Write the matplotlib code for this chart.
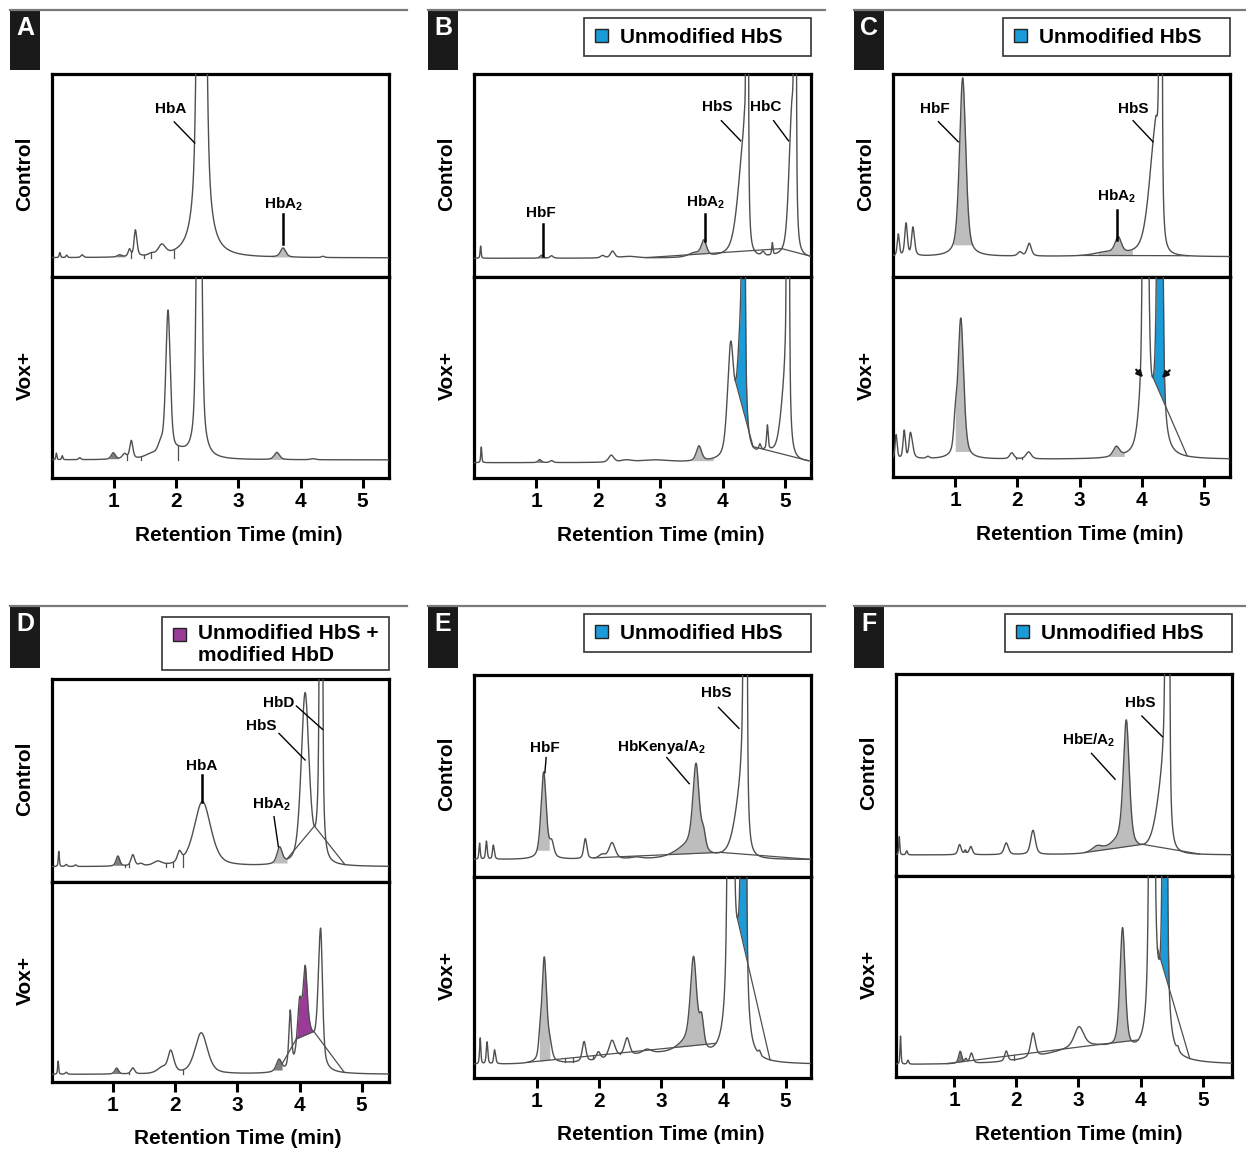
import numpy as np
import matplotlib.pyplot as plt
from matplotlib.patches import Rectangle

plt.rcParams['font.family'] = ['Liberation Sans', 'DejaVu Sans']
plt.rcParams['font.weight'] = 'bold'
plt.rcParams['mathtext.fontset'] = 'custom'
plt.rcParams['mathtext.rm'] = 'Liberation Sans:bold'
plt.rcParams['mathtext.it'] = 'Liberation Sans:bold'
plt.rcParams['mathtext.bf'] = 'Liberation Sans:bold'

# peaks: (retention time min, height % of panel, left half-width, right half-width)
A_CTRL_BASE = 9.4
A_CTRL_PEAKS = [(0.13, 2.5, .012, .012), (0.24, 1.2, .015, .015), (0.49, 1.3, .025, .025),
                (1.09, 1.0, .04, .04), (1.25, 3.5, .025, .025), (1.345, 13.0, .025, .03),
                (1.60, 1.0, .05, .05), (1.77, 5.0, .07, .07), (2.41, 600.0, .05, .05),
                (3.72, 4.5, .05, .05), (4.36, 0.6, .03, .03)]
A_VOX_BASE = 9.0
A_VOX_PEAKS = [(0.075, 3.3, .01, .01), (0.17, 2.0, .012, .012), (0.45, 1.0, .02, .02),
               (0.99, 3.2, .04, .04), (1.17, 2.5, .04, .04), (1.28, 9.0, .03, .03),
               (1.60, 2.0, .12, .12), (1.75, 5.0, .05, .05), (1.87, 72.0, .043, .043),
               (2.05, 3.0, .15, .15), (2.37, 320.0, .035, .035), (3.62, 3.6, .05, .05),
               (4.20, 0.5, .05, .05)]

B_CTRL_BASE = 9.2
B_CTRL_PEAKS = [(0.11, 6.0, .01, .01), (1.09, 1.5, .03, .03), (1.25, 1.2, .03, .03),
                (2.07, 1.2, .04, .04), (2.23, 3.3, .04, .04), (2.50, 0.8, .15, .15),
                (3.55, 2.0, .12, .12), (3.70, 7.5, .05, .05), (4.40, 555.0, .015, .01),
                (4.34, 50.0, .11, .04), (4.65, 2.0, .03, .03), (4.80, 6.0, .012, .012),
                (5.17, 555.0, .015, .01), (5.11, 60.0, .055, .04)]
B_VOX_BASE = 7.6
B_VOX_PEAKS = [(0.12, 7.8, .01, .01), (1.06, 1.5, .03, .03), (1.25, 1.0, .03, .03),
               (2.21, 3.5, .05, .05), (2.45, 1.0, .1, .1), (2.90, 1.2, .3, .3),
               (3.62, 7.5, .05, .05), (4.13, 55.0, .06, .06), (4.33, 555.0, .015, .02),
               (4.28, 45.0, .06, .03), (4.60, 3.0, .02, .02), (4.72, 12.0, .015, .015),
               (4.70, 4.0, .2, .2), (5.05, 555.0, .015, .015), (5.00, 30.0, .08, .03)]

C_CTRL_BASE = 10.0
C_CTRL_PEAKS = [(0.085, 10.7, .02, .02), (0.21, 16.0, .025, .025), (0.32, 14.0, .025, .03),
                (1.12, 88.0, .06, .06), (2.04, 2.0, .04, .04), (2.19, 6.3, .04, .04),
                (3.40, 1.5, .2, .2), (3.62, 8.0, .06, .06), (4.31, 555.0, .02, .012),
                (4.22, 55.0, .12, .05)]
C_VOX_BASE = 8.8
C_VOX_PEAKS = [(0.05, 12.0, .02, .02), (0.18, 14.0, .022, .022), (0.28, 13.0, .025, .04),
               (0.56, 1.0, .03, .03), (1.00, 12.0, .03, .03), (1.09, 70.0, .055, .055),
               (1.91, 3.0, .04, .04), (2.18, 3.5, .05, .05), (3.59, 5.0, .06, .06),
               (3.98, 10.0, .06, .06), (4.05, 555.0, .025, .035), (4.30, 555.0, .035, .025)]

D_CTRL_BASE = 7.5
D_CTRL_PEAKS = [(0.13, 7.5, .01, .01), (0.25, 1.0, .02, .02), (0.40, 0.8, .02, .02),
                (1.08, 5.0, .035, .035), (1.32, 5.5, .035, .035), (1.45, 1.0, .04, .04),
                (1.72, 2.0, .08, .08), (2.07, 5.0, .04, .04), (2.44, 32.0, .16, .16),
                (3.68, 8.0, .05, .05), (4.09, 84.0, .075, .075), (4.35, 555.0, .02, .015)]
D_VOX_BASE = 3.8
D_VOX_PEAKS = [(0.12, 6.6, .01, .01), (0.25, 1.0, .02, .02), (1.06, 3.0, .035, .035),
               (1.32, 3.0, .035, .035), (1.80, 3.0, .1, .1), (1.93, 10.5, .05, .06),
               (2.42, 20.6, .12, .12), (3.67, 6.0, .05, .05), (3.85, 28.0, .025, .025),
               (4.00, 25.0, .04, .04), (4.09, 35.0, .04, .04), (4.15, 18.0, .15, .15),
               (4.34, 66.0, .045, .035)]

E_CTRL_BASE = 8.6
E_CTRL_PEAKS = [(0.08, 8.0, .012, .012), (0.19, 9.0, .015, .015), (0.30, 7.0, .015, .02),
                (1.11, 43.0, .05, .05), (1.24, 7.0, .04, .04), (1.78, 10.0, .03, .03),
                (2.05, 2.0, .06, .06), (2.21, 8.0, .06, .06), (2.60, 0.8, .1, .1),
                (3.45, 6.0, .25, .2), (3.56, 42.0, .06, .06), (3.68, 8.0, .04, .04),
                (4.36, 555.0, .025, .015), (4.28, 25.0, .12, .05)]
E_VOX_BASE = 6.6
E_VOX_PEAKS = [(0.09, 13.0, .012, .012), (0.20, 11.0, .015, .015), (0.32, 7.0, .015, .02),
               (2.90, 5.0, .7, .7), (1.05, 8.0, .025, .025), (1.12, 52.0, .045, .045),
               (1.21, 7.0, .04, .04), (1.76, 10.0, .035, .035), (1.99, 4.0, .04, .04),
               (2.21, 9.0, .06, .06), (2.45, 9.0, .05, .05), (2.77, 2.0, .08, .08),
               (3.42, 6.0, .2, .2), (3.52, 44.0, .06, .06), (3.65, 14.0, .04, .04),
               (4.12, 555.0, .035, .03), (4.22, 30.0, .08, .08),
               (4.33, 555.0, .03, .025), (4.58, 2.0, .02, .02)]

F_CTRL_BASE = 10.4
F_CTRL_PEAKS = [(0.12, 9.0, .01, .01), (0.24, 2.0, .015, .015), (1.09, 5.0, .03, .03),
                (1.18, 2.0, .02, .02), (1.27, 4.0, .03, .03), (1.84, 5.8, .04, .04),
                (2.27, 12.0, .045, .045), (3.30, 3.0, .1, .1), (3.65, 5.0, .2, .2),
                (3.77, 62.0, .057, .057), (4.445, 555.0, .03, .015), (4.35, 25.0, .12, .05)]
F_VOX_BASE = 6.0
F_VOX_PEAKS = [(0.14, 14.0, .01, .01), (0.26, 2.0, .015, .015), (1.10, 6.0, .03, .03),
               (1.19, 2.0, .02, .02), (1.28, 5.0, .03, .03), (3.20, 9.0, .8, .8),
               (1.84, 5.0, .03, .03), (2.27, 12.0, .045, .045), (3.01, 10.0, .09, .09),
               (3.71, 60.0, .05, .05), (4.18, 555.0, .03, .03), (4.27, 15.0, .08, .08),
               (4.39, 555.0, .025, .025), (4.60, 2.0, .02, .02)]

# integration marks: shaded peaks (start, end, tone), baseline skims, drop lines, coloured area
A_CTRL_SHADE = [(1.0, 1.18, 'dark'), (3.52, 3.92, 'light')]
A_CTRL_DROPS = [1.28, 1.48, 1.59, 1.96]
A_VOX_SHADE = [(0.9, 1.08, 'dark'), (3.45, 3.8, 'light')]
A_VOX_DROPS = [1.21, 1.43, 2.03]

B_CTRL_SHADE = [(1.0, 1.16, 'dark'), (3.45, 3.88, 'light')]
B_CTRL_SKIMS = [(2.77, 4.95), (4.95, 5.40)]
B_VOX_SHADE = [(1.0, 1.15, 'dark'), (3.45, 3.85, 'light')]
B_VOX_SKIMS = [(4.49, 5.38)]
B_VOX_AREA = (4.20, 4.49)

C_CTRL_SHADE = [(0.97, 1.28, 'light'), (3.3, 3.85, 'light')]
C_CTRL_SKIMS = [(3.0, 4.75)]
C_VOX_SHADE = [(1.0, 1.25, 'light'), (3.45, 3.72, 'light')]
C_VOX_DROPS = [1.98, 2.08]
C_VOX_AREA = (4.18, 4.73)
C_VOX_ARROWS = [((3.88, 54.7), (4.05, 48.8)), ((4.48, 54.3), (4.29, 48.5))]

D_CTRL_SHADE = [(1.0, 1.15, 'dark'), (3.55, 3.8, 'light')]
D_CTRL_SKIMS = [(3.80, 4.24), (4.24, 4.73)]
D_CTRL_DROPS = [1.19, 1.26, 1.86, 1.96, 2.13]
D_VOX_SHADE = [(0.98, 1.14, 'dark'), (3.58, 3.75, 'dark')]
D_VOX_SKIMS = [(3.72, 3.95), (4.23, 4.72)]
D_VOX_DROPS = [1.18, 1.26, 2.12]
D_VOX_AREA = (3.95, 4.23)

E_CTRL_SHADE = [(1.0, 1.2, 'light'), (3.0, 3.92, 'light')]
E_CTRL_SKIMS = [(1.92, 3.95), (3.95, 5.40)]
E_CTRL_DROPS = [1.92]
E_VOX_SHADE = [(1.04, 1.21, 'light'), (3.0, 3.88, 'light')]
E_VOX_SKIMS = [(0.85, 3.88)]
E_VOX_DROPS = [1.31, 1.46, 1.59, 1.90, 2.02, 2.33]
E_VOX_AREA = (4.22, 4.75)

F_CTRL_SHADE = [(1.13, 1.22, 'dark'), (3.2, 4.03, 'light')]
F_CTRL_SKIMS = [(3.1, 4.03), (4.03, 4.95)]
F_VOX_SHADE = [(1.05, 1.16, 'dark'), (3.35, 3.96, 'light')]
F_VOX_SKIMS = [(0.88, 3.35), (3.35, 3.96)]
F_VOX_DROPS = [1.97]
F_VOX_AREA = (4.27, 4.79)

# peak labels: (text, text x, text y, leader x0, y0, x1, y1)
A_LABELS = [('HbA', 1.92, 82.8, 1.97, 76.4, 2.30, 66.0),
            ('HbA$_2$', 3.72, 36.0, 3.72, 31.0, 3.72, 16.3)]
B_LABELS = [('HbF', 1.07, 31.7, 1.11, 26.0, 1.11, 10.2),
            ('HbA$_2$', 3.72, 36.6, 3.72, 31.0, 3.72, 17.9),
            ('HbS', 3.92, 83.6, 3.98, 77.0, 4.29, 67.1),
            ('HbC', 4.69, 83.6, 4.82, 77.0, 5.06, 67.1)]
C_LABELS = [('HbF', 0.68, 82.6, 0.73, 76.5, 1.05, 66.6),
            ('HbS', 3.86, 82.6, 3.86, 77.0, 4.18, 66.6),
            ('HbA$_2$', 3.60, 39.6, 3.60, 33.0, 3.60, 18.2)]
D_LABELS = [('HbD', 3.67, 88.0, 3.95, 86.7, 4.37, 75.2),
            ('HbS', 3.39, 76.8, 3.67, 73.2, 4.09, 60.1),
            ('HbA', 2.43, 57.3, 2.43, 52.7, 2.43, 39.6),
            ('HbA$_2$', 3.55, 38.4, 3.59, 32.2, 3.66, 17.4)]
E_LABELS = [('HbF', 1.13, 64.0, 1.15, 59.1, 1.13, 51.6),
            ('HbKenya/A$_2$', 3.01, 64.4, 3.09, 59.1, 3.45, 46.2),
            ('HbS', 3.88, 90.9, 3.92, 84.0, 4.25, 73.6)]
F_LABELS = [('HbS', 3.99, 85.5, 4.02, 79.2, 4.35, 69.0),
            ('HbE/A$_2$', 3.16, 67.0, 3.21, 60.7, 3.59, 47.9)]

LEGEND_B = 'Unmodified HbS'
LEGEND_D = 'Unmodified HbS +\nmodified HbD'
XTICKS = [1, 2, 3, 4, 5]

W, H = 1246, 1151
PPM = 62.2
# pixel layout per panel: left, right, top, middle, bottom, pixel of t=0, letter box left
PANELS = {'A': (52, 389, 74, 277, 478, 51.7, 10), 'B': (474, 811, 74, 277, 478, 473.8, 428),
          'C': (893, 1230, 74, 277, 477, 893.0, 854), 'D': (52, 389, 679, 882, 1082, 50.7, 10),
          'E': (474, 811, 675, 877, 1078, 474.6, 428), 'F': (896, 1232, 674, 876, 1077, 891.8, 854)}
GREYS = {'light': '#bdbdbd', 'dark': '#7c7c7c'}
BLUE = '#1b9bd8'
PURPLE = '#9a3c97'
TRACE = '#4f4f4f'

fig = plt.figure(figsize=(W / 100, H / 100), dpi=100)
ov = fig.add_axes([0, 0, 1, 1])
ov.set_xlim(0, W)
ov.set_ylim(H, 0)
ov.axis('off')


def pv(x, c, h, wl, wr):
    w = np.where(x < c, wl, wr)
    u = (x - c) / w
    return h * 0.5 * (1 / (1 + u * u) + np.exp(-0.693 * u * u))


def signal(x, base, peaks):
    x = np.asarray(x, float)
    y = np.full(x.shape, base, float)
    for p in peaks:
        y = y + pv(x, *p)
    return y


def draw(ax, xlim, base, peaks, shade=(), skims=(), drops=(), area=None, area_color=BLUE):
    x = np.linspace(xlim[0], xlim[1], 6000)
    y = signal(x, base, peaks)

    def at(v):
        return float(signal([v], base, peaks)[0])

    def under(v):
        for s0, s1 in skims:
            if s0 <= v <= s1:
                return at(s0) + (at(s1) - at(s0)) * (v - s0) / (s1 - s0)
        return None

    for x0, x1, tone in shade:
        m = (x >= x0) & (x <= x1)
        floor = min(at(x0), at(x1))
        bot = np.array([under(v) if under(v) is not None else floor for v in x[m]])
        ax.fill_between(x[m], bot, y[m], where=y[m] >= bot, color=GREYS[tone], lw=0, zorder=1)
    if area is not None:
        a0, a1 = area
        m = (x >= a0) & (x <= a1)
        lin = at(a0) + (at(a1) - at(a0)) * (x[m] - a0) / (a1 - a0)
        ax.fill_between(x[m], lin, y[m], where=y[m] >= lin, color=area_color, lw=0, zorder=1)
        ax.plot([a0, a1], [at(a0), at(a1)], color=TRACE, lw=0.9, zorder=2)
    for s0, s1 in skims:
        ax.plot([s0, s1], [at(s0), at(s1)], color=TRACE, lw=0.9, zorder=2)
    for d in drops:
        u = under(d)
        ax.plot([d, d], [u if u is not None else base, at(d)], color=TRACE, lw=0.9, zorder=2)
    ax.plot(x, y, color=TRACE, lw=1.0, zorder=3)


def panel(key, ctrl, vox, labels, legend=None, legend_color=BLUE, legend_lines=1):
    l, r, t, m, b, x0, bl = PANELS[key]
    xlim = ((l - x0) / PPM, (r - x0) / PPM)
    axes = []
    for top, bot in ((t, m), (m, b)):
        ax = fig.add_axes([l / W, 1 - bot / H, (r - l) / W, (bot - top) / H])
        ax.set_xlim(*xlim)
        ax.set_ylim(0, 100)
        ax.set_yticks([])
        for s in ax.spines.values():
            s.set_linewidth(2.3)
        axes.append(ax)
    axes[0].set_xticks([])
    axes[1].set_xticks(XTICKS)
    axes[1].tick_params(axis='x', length=7, width=2.2, labelsize=15, pad=3)
    for lbl in axes[1].get_xticklabels():
        lbl.set_fontweight('bold')
    draw(axes[0], xlim, **ctrl)
    draw(axes[1], xlim, **vox)
    for txt, tx, ty, lx0, ly0, lx1, ly1 in labels:
        axes[0].text(tx, ty, txt, ha='center', va='center', fontsize=11, fontweight='bold', zorder=5)
        axes[0].plot([lx0, lx1], [ly0, ly1], color='black', lw=1.8 if lx0 == lx1 else 1.0, zorder=5)

    # decorations in pixel space
    row_top = 10 if t < 300 else 606
    box_bottom = 70 if t < 300 else 668
    line_right = 407 if key in 'AD' else (825 if key in 'BE' else 1246)
    ov.plot([bl, line_right], [row_top, row_top], color='#7a7a7a', lw=1.6)
    ov.add_patch(Rectangle((bl, row_top), 30, box_bottom - row_top, color='#1a1a1a', lw=0))
    ov.text(bl + 15, row_top + 18, key, color='white', fontsize=18, fontweight='bold',
            ha='center', va='center')
    ov.text(l - 27, (t + m) / 2 - 2, 'Control', rotation=90, ha='center', va='center',
            fontsize=15, fontweight='bold')
    ov.text(l - 27, (m + b) / 2 - 2, 'Vox+', rotation=90, ha='center', va='center',
            fontsize=15, fontweight='bold')
    ov.text(x0 + 3 * PPM, b + 57, 'Retention Time (min)', ha='center', va='center', fontsize=15,
            fontweight='bold')
    if legend is not None:
        lh = 38 if legend_lines == 1 else 53
        ly = row_top + 8 if legend_lines == 1 else row_top + 11
        lx = r - 227
        ov.add_patch(Rectangle((lx, ly), 227, lh, facecolor='white', edgecolor='#333333', lw=1.2))
        ov.add_patch(Rectangle((lx + 11, ly + 11), 13, 13, facecolor=legend_color,
                               edgecolor='#222222', lw=1.0))
        ov.text(lx + 36, ly + lh / 2 + 0.5, legend, ha='left', va='center', fontsize=15,
                fontweight='bold', linespacing=1.2)
    return axes


panel('A', dict(base=A_CTRL_BASE, peaks=A_CTRL_PEAKS, shade=A_CTRL_SHADE, drops=A_CTRL_DROPS),
      dict(base=A_VOX_BASE, peaks=A_VOX_PEAKS, shade=A_VOX_SHADE, drops=A_VOX_DROPS), A_LABELS)
panel('B', dict(base=B_CTRL_BASE, peaks=B_CTRL_PEAKS, shade=B_CTRL_SHADE, skims=B_CTRL_SKIMS),
      dict(base=B_VOX_BASE, peaks=B_VOX_PEAKS, shade=B_VOX_SHADE, skims=B_VOX_SKIMS,
           area=B_VOX_AREA), B_LABELS, LEGEND_B)
c_axes = panel('C', dict(base=C_CTRL_BASE, peaks=C_CTRL_PEAKS, shade=C_CTRL_SHADE, skims=C_CTRL_SKIMS),
               dict(base=C_VOX_BASE, peaks=C_VOX_PEAKS, shade=C_VOX_SHADE, drops=C_VOX_DROPS,
                    area=C_VOX_AREA), C_LABELS, LEGEND_B)
for tail, head in C_VOX_ARROWS:
    c_axes[1].annotate('', xy=head, xytext=tail, zorder=6,
                       arrowprops=dict(arrowstyle='-|>', color='#111111', lw=1.6, mutation_scale=9))
panel('D', dict(base=D_CTRL_BASE, peaks=D_CTRL_PEAKS, shade=D_CTRL_SHADE, skims=D_CTRL_SKIMS,
                drops=D_CTRL_DROPS),
      dict(base=D_VOX_BASE, peaks=D_VOX_PEAKS, shade=D_VOX_SHADE, skims=D_VOX_SKIMS,
           drops=D_VOX_DROPS, area=D_VOX_AREA, area_color=PURPLE),
      D_LABELS, LEGEND_D, PURPLE, 2)
panel('E', dict(base=E_CTRL_BASE, peaks=E_CTRL_PEAKS, shade=E_CTRL_SHADE, skims=E_CTRL_SKIMS,
                drops=E_CTRL_DROPS),
      dict(base=E_VOX_BASE, peaks=E_VOX_PEAKS, shade=E_VOX_SHADE, skims=E_VOX_SKIMS,
           drops=E_VOX_DROPS, area=E_VOX_AREA), E_LABELS, LEGEND_B)
panel('F', dict(base=F_CTRL_BASE, peaks=F_CTRL_PEAKS, shade=F_CTRL_SHADE, skims=F_CTRL_SKIMS),
      dict(base=F_VOX_BASE, peaks=F_VOX_PEAKS, shade=F_VOX_SHADE, skims=F_VOX_SKIMS,
           drops=F_VOX_DROPS, area=F_VOX_AREA), F_LABELS, LEGEND_B)

fig.savefig('out.png', dpi=100)
